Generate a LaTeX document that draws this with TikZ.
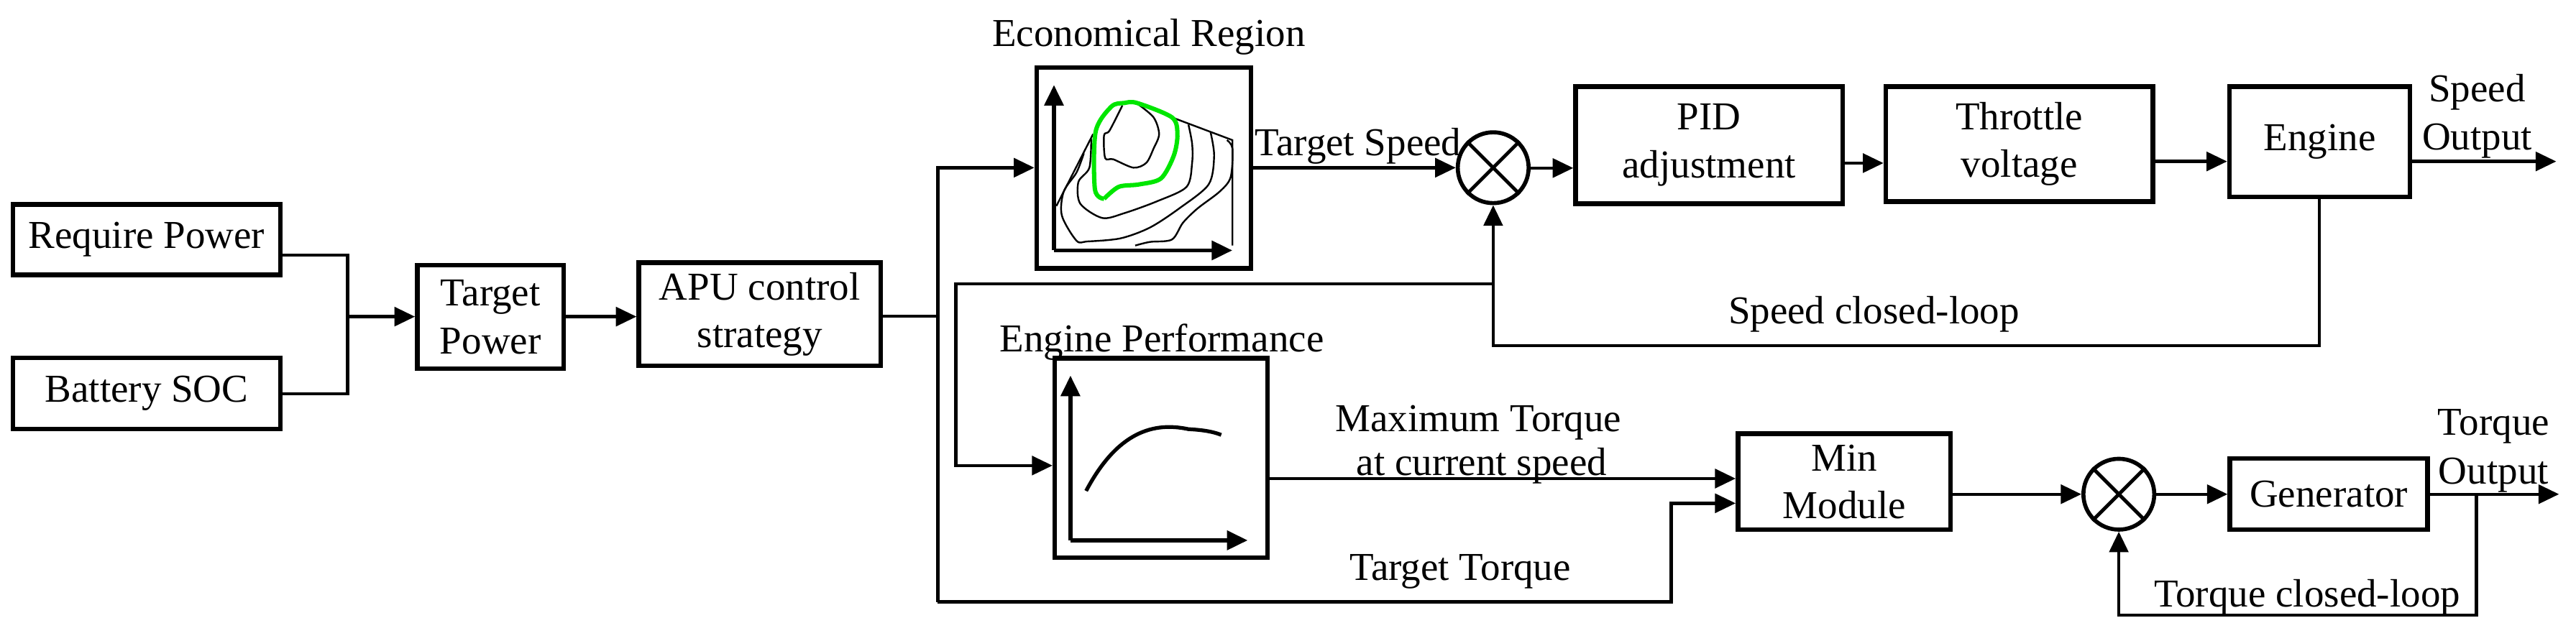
\documentclass[tikz,border=0pt]{standalone}
\usepackage{fontspec}
\setmainfont{Liberation Serif}
\usetikzlibrary{arrows.meta,shapes.geometric}
\begin{document}
\begin{tikzpicture}[x=0.02cm,y=-0.02cm,
  every node/.style={font=\fontsize{13.66}{16.5}\selectfont},
  box/.style={draw,line width=1.6pt,inner sep=0pt,align=center},
  sum/.style={draw,circle,line width=1.4pt,minimum size=0.86cm,inner sep=0pt},
  ln/.style={line width=1.1pt},
  arr/.style={ln,-{Triangle[length=0.25cm,width=0.23cm]}},
  lbl/.style={anchor=base,inner sep=0pt},
  cont/.style={line width=0.6pt}]
\useasboundingbox (0,0) rectangle (1563,388.7);
% boxes
\node[box,minimum width=3.248cm,minimum height=0.854cm] (rp) at (89,145.5) {Require Power};
\node[box,minimum width=3.248cm,minimum height=0.862cm] (bs) at (89,238.8) {Battery SOC};
\node[box,minimum width=1.776cm,minimum height=1.258cm] (tp) at (297.6,192.4) {Target\\Power};
\node[box,minimum width=2.936cm,minimum height=1.254cm] (apu) at (461,190.7) {APU control\\strategy};
\node[box,minimum width=2.6cm,minimum height=2.44cm] (econ) at (694,102) {};
\node[box,minimum width=3.24cm,minimum height=1.42cm] (pid) at (1037,88.1) {PID\\adjustment};
\node[box,minimum width=3.24cm,minimum height=1.396cm] (thr) at (1225.2,87.5) {Throttle\\voltage};
\node[box,minimum width=2.192cm,minimum height=1.338cm] (eng) at (1407.5,86) {Engine};
\node[box,minimum width=2.58cm,minimum height=2.42cm] (perf) at (704.5,278) {};
\node[box,minimum width=2.58cm,minimum height=1.168cm] (minm) at (1119,292.4) {Min\\Module};
\node[box,minimum width=2.4cm,minimum height=0.864cm] (gen) at (1413,300) {Generator};
\node[sum] (c1) at (906,101.8) {};
\node[sum] (c2) at (1285.6,300) {};
\foreach \c in {c1,c2}{
  \draw[line width=1.2pt] (\c.north west) -- (\c.south east) (\c.north east) -- (\c.south west);}
% labels
\node[lbl] (l1) at (697,28) {Economical Region};
\node[lbl] (l2) at (824,94.5) {Target Speed};
\node[lbl] (l3) at (705,213.4) {Engine Performance};
\node[lbl] (l4) at (897,262) {Maximum Torque};
\node[lbl] (l5) at (899,288.6) {at current speed};
\node[lbl] (l6) at (886,352.2) {Target Torque};
\node[lbl] (l7) at (1137,196.3) {Speed closed-loop};
\node[lbl] (l8) at (1400,368.6) {Torque closed-loop};
\node[lbl] (l9) at (1503,61.8) {Speed};
\node[lbl] (l10) at (1503,90.9) {Output};
\node[lbl] (l11) at (1513,264) {Torque};
\node[lbl] (l12) at (1513,293.7) {Output};
% coordinates
\coordinate (j1) at (211,192.2);
\coordinate (sp) at (569,192);
\coordinate (so) at (1551,98);
\coordinate (to) at (1552.7,300);
% connectors
\draw[ln] (rp.east |- 0,154.8) -| (j1) |- (bs.east |- 0,239);
\draw[arr] (j1) -- (tp.west |- j1);
\draw[arr] (tp.east |- 0,192.2) -- (apu.west |- 0,192.2);
\draw[ln] (apu.east |- sp) -- (sp);
\draw[arr] (569,365.4) -- (569,101.8) -- (econ.west |- 0,101.8);
\draw[arr] (569,365.4) -- (1014,365.4) -- (1014,305.5) -- (minm.west |- 0,305.5);
\draw[arr] (econ.east |- c1) -- (c1.west);
\draw[arr] (c1.east |- 0,102) -- (pid.west |- 0,102);
\draw[arr] (pid.east |- 0,99) -- (thr.west |- 0,99);
\draw[arr] (thr.east |- 0,98) -- (eng.west |- 0,98);
\draw[arr] (eng.east |- so) -- (so);
\draw[arr] (1407.3,0 |- eng.south) -- (1407.3,209.7) -- (906,209.7) -- (c1.south);
\draw[arr] (906,172.2) -- (580,172.2) -- (580,282.6) -- (perf.west |- 0,282.6);
\draw[arr] (perf.east |- 0,290.5) -- (minm.west |- 0,290.5);
\draw[arr] (minm.east |- c2) -- (c2.west);
\draw[arr] (c2.east) -- (gen.west);
\draw[arr] (gen.east) -- (to);
\draw[arr] (1502.6,300) -- (1502.6,373.4) -- (1285.6,373.4) -- (c2.south);
% economical region map
\draw[arr,line width=1.3pt] (639.5,152) -- (639.5,51.6);
\draw[arr,line width=1.3pt] (639.5,152) -- (747.7,152);
\begin{scope}[shift={(602,0)},xscale=0.2226,yscale=0.1454]
 \draw[cont] (175,860) -- (275,560);
 \draw[cont] (395,430) -- (490,490) -- (655,585) -- (655,1025);
 \draw[cont] plot[smooth] coordinates {(355,440) (320,545) (305,565) (308,660) (330,665) (385,700) (420,680) (440,620) (455,560) (440,490) (395,432)};
 \draw[cont] plot[smooth] coordinates {(270,580) (265,700) (235,760) (240,850) (300,910) (360,890) (450,840) (530,780) (545,680) (545,600) (535,520)};
 \draw[cont] plot[smooth] coordinates {(250,640) (230,720) (195,800) (190,900) (230,1005) (260,1008) (350,995) (430,950) (510,870) (590,770) (605,650) (595,550)};
 \draw[cont] plot[smooth] coordinates {(390,1025) (430,1010) (490,1000) (520,930) (560,870) (620,800) (650,740) (655,620) (640,585)};
 \draw[line width=1.5pt,color={rgb,255:red,0;green,230;blue,0}] plot[smooth] coordinates {(305,830) (280,790) (282,550) (325,445) (360,430) (395,430) (490,490) (505,560) (495,650) (460,745) (400,770) (345,780) (305,830)};
\end{scope}
% engine performance map
\draw[arr,line width=1.3pt] (649.5,328) -- (649.5,228);
\draw[arr,line width=1.3pt] (649.5,328) -- (757,328);
\draw[line width=1.3pt] (659,298) .. controls (678,262) and (700,256) .. (721,260.5) .. controls (730,261) and (736,262) .. (741,264);
\end{tikzpicture}
\end{document}
